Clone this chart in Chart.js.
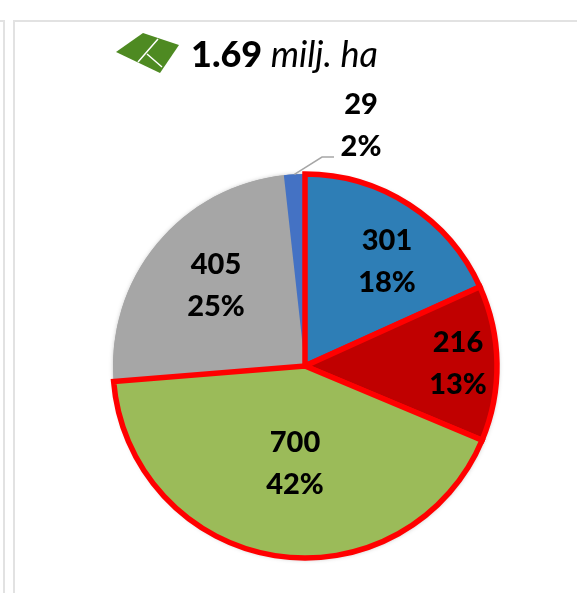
<!DOCTYPE html>
<html>
<head>
<meta charset="utf-8">
<script src="https://cdn.jsdelivr.net/npm/chart.js@4/dist/chart.umd.min.js"></script>
<style>
  html, body { margin: 0; background: #fff; }
  #wrap { position: relative; width: 577px; height: 593px; overflow: hidden; }
  #wrap .rule { position: absolute; background: #e2e2e2; }
  #field { position: absolute; left: 115px; top: 33px; }
  canvas { position: absolute; left: 0; top: 0; }
</style>
</head>
<body>
<div id="wrap">
  <div class="rule" style="left:0;top:20px;width:5px;height:2px"></div>
  <div class="rule" style="left:3px;top:20px;width:2px;height:573px"></div>
  <div class="rule" style="left:13px;top:20px;width:2px;height:573px"></div>
  <div class="rule" style="left:13px;top:20px;width:564px;height:2px"></div>
  <svg id="field" width="65" height="42" viewBox="0 0 65 42">
    <polygon points="1,19 28,0 64,12 45,40" fill="#4e8a22"/>
    <path d="M43,6 L23,29 M32,21 L47,34" stroke="#fff" stroke-width="1.5" fill="none"/>
  </svg>
  <canvas id="pie" width="577" height="593"></canvas>
</div>
<script>
  // waarden uit de figuur (duizend ha)
  const categories = ['Blauw', 'Rood', 'Groen', 'Grijs', 'Klein'];
  const values = [301, 216, 700, 405, 29];
  const percents = ['18%', '13%', '42%', '25%', '2%'];
  const colors = ['#2e7eb6', '#c00000', '#9bbb59', '#a6a6a6', '#4472c4'];
  const outlined = [true, true, true, false, false];

  // label centres as dx/dy from the pie centre, in px
  const labelSpots = [[82, -104], [153, -2], [-10, 98], [-89, -80], [56, -240]];
  const TITLE_BOLD = '1.69', TITLE_REST = ' milj. ha';

  // grijs en klein eerst tekenen, anders liggen ze over de rode rand
  const order = [3, 4, 0, 1, 2];
  const total = values.reduce((a, b) => a + b, 0);
  const startDeg = -(values[3] + values[4]) / total * 360;

  const pieText = {
    id: 'pieText',
    beforeDatasetsDraw(chart) {
      // soft shadow only outside the pie
      const ctx = chart.ctx;
      const a = chart.getDatasetMeta(0).data[0];
      ctx.save();
      ctx.shadowColor = 'rgba(0,0,0,0.35)';
      ctx.shadowBlur = 5;
      ctx.shadowOffsetX = 1;
      ctx.shadowOffsetY = 1;
      ctx.fillStyle = '#a6a6a6';
      ctx.beginPath();
      ctx.arc(a.x, a.y, a.outerRadius, 0, Math.PI * 2);
      ctx.fill();
      ctx.restore();
    },
    afterDatasetsDraw(chart) {
      const ctx = chart.ctx;
      const arcs = chart.getDatasetMeta(0).data;
      const cx = arcs[0].x, cy = arcs[0].y;

      // leader line for the small slice
      const small = arcs[order.indexOf(4)];
      const mid = (small.startAngle + small.endAngle) / 2;
      ctx.save();
      ctx.strokeStyle = '#a6a6a6';
      ctx.lineWidth = 1.5;
      ctx.beginPath();
      ctx.moveTo(cx + Math.cos(mid) * small.outerRadius, cy + Math.sin(mid) * small.outerRadius);
      ctx.lineTo(cx + 17, cy - 209);
      ctx.lineTo(cx + 29, cy - 209);
      ctx.stroke();
      ctx.restore();

      ctx.save();
      ctx.fillStyle = '#000';
      ctx.textAlign = 'center';
      ctx.textBaseline = 'middle';
      ctx.font = '900 29px Lato';
      values.forEach((v, i) => {
        const [dx, dy] = labelSpots[i];
        ctx.fillText(String(v), cx + dx, cy + dy - 21);
        ctx.fillText(percents[i], cx + dx, cy + dy + 21);
      });
      ctx.textAlign = 'left';
      ctx.textBaseline = 'alphabetic';
      ctx.font = '900 36px Lato';
      ctx.fillText(TITLE_BOLD, 191, 67);
      const w = ctx.measureText(TITLE_BOLD).width;
      ctx.font = 'italic 36px Lato';
      ctx.fillText(TITLE_REST, 191 + w, 67);
      ctx.restore();
    }
  };

  new Chart(document.getElementById('pie'), {
    type: 'pie',
    data: {
      labels: order.map((i) => categories[i]),
      datasets: [{
        data: order.map((i) => values[i]),
        backgroundColor: order.map((i) => colors[i]),
        borderColor: order.map((i) => (outlined[i] ? '#ff0000' : 'transparent')),
        borderWidth: order.map((i) => (outlined[i] ? 5.5 : 0)),
        borderJoinStyle: 'miter',
      }],
    },
    options: {
      responsive: false,
      animation: false,
      rotation: startDeg,
      radius: 192,
      layout: { padding: { left: 40, right: 7, top: 140, bottom: 1 } },
      plugins: { legend: { display: false }, tooltip: { enabled: false } },
    },
    plugins: [pieText],
  });
</script>
</body>
</html>
